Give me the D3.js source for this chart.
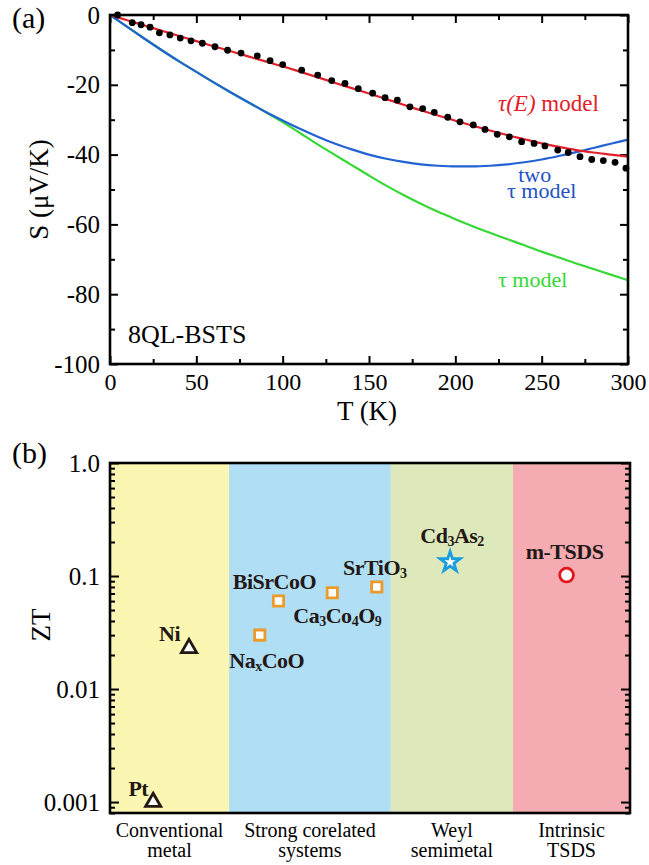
<!DOCTYPE html>
<html>
<head>
<meta charset="utf-8">
<script src="https://cdn.jsdelivr.net/npm/d3@7"></script>
<style>
  html, body { margin: 0; padding: 0; background: #fff; }
  svg { display: block; font-family: "Liberation Serif", "Times New Roman", serif; }
</style>
</head>
<body>
<svg id="chart" width="649" height="865"></svg>
<script>
// ---------- Panel (a) data ----------
const dotT = [4.4, 12.9, 18.0, 23.2, 28.6, 34.7, 40.7, 46.9, 53.5, 60.8, 68.1, 75.9, 85.3, 92.7, 100, 111, 120.3, 128.4, 136.1, 143.8, 152.1, 159.3, 166.4, 173.7, 181.1, 187.8, 195.6, 202.7, 210.4, 217.2, 224.3, 231.3, 238.4, 245.6, 251.9, 259.3, 265.4, 272.2, 279, 285.7, 292.5, 298.8];
const dotS = [0, -2.2, -2.8, -3.5, -5.1, -5.7, -6.6, -7.4, -8.1, -9.1, -10.1, -10.9, -11.7, -13.1, -14.2, -15.8, -17.2, -18.8, -19.6, -21.1, -22.4, -23.7, -24.4, -26.3, -26.8, -27.9, -29.3, -30.6, -31.5, -32.8, -34.2, -34.9, -36.3, -36.8, -37.5, -38.7, -39.4, -40.6, -41.4, -41.7, -42.2, -43.9];

const modelT = [0, 10, 20, 30, 40, 50, 60, 70, 80, 90, 100, 110, 120, 130, 140, 150, 160, 170, 180, 190, 200, 210, 220, 230, 240, 250, 260, 270, 280, 290, 300];
const tauEModel = [0, -1.5, -3.0, -4.5, -6.0, -7.5, -8.95, -10.4, -11.85, -13.3, -14.7, -16.25, -17.8, -19.4, -20.95, -22.5, -24.1, -25.7, -27.3, -28.8, -30.3, -31.7, -33.1, -34.4, -35.6, -36.8, -37.8, -38.7, -39.4, -40.0, -40.6];
const twoTauModel = [0, -3.4, -6.8, -10.1, -13.3, -16.3, -19.3, -22.2, -25.0, -27.7, -30.2, -32.6, -34.8, -36.8, -38.5, -40.0, -41.2, -42.1, -42.8, -43.2, -43.4, -43.4, -43.2, -42.8, -42.2, -41.4, -40.4, -39.3, -38.1, -36.9, -35.7];
const tauModel = [0, -3.4, -6.8, -10.1, -13.3, -16.3, -19.3, -22.2, -25.0, -27.8, -30.7, -33.8, -37.0, -40.0, -43.0, -46.0, -48.9, -51.6, -54.1, -56.4, -58.5, -60.5, -62.4, -64.2, -66.0, -67.8, -69.5, -71.2, -72.8, -74.4, -76.0];

const xTicksA = [0, 50, 100, 150, 200, 250, 300];
const xMinorA = [25, 75, 125, 175, 225, 275];
const yTicksA = [0, -20, -40, -60, -80, -100];
const yMinorA = [-10, -30, -50, -70, -90];

// ---------- Panel (b) data ----------
const categories = [["Conventional", "metal"], ["Strong corelated", "systems"], ["Weyl", "semimetal"], ["Intrinsic", "TSDS"]];
const categoryBounds = [0, 22.9, 54.0, 77.5, 100];
const categoryColors = ["#fbf6b1", "#b0dff5", "#dde9bb", "#f4abb1"];

const materials = [
  [["Pt", ""]],
  [["Ni", ""]],
  [["Na", ""], ["x", "sub"], ["CoO", ""]],
  [["BiSrCoO", ""]],
  [["Ca", ""], ["3", "sub"], ["Co", ""], ["4", "sub"], ["O", ""], ["9", "sub"]],
  [["SrTiO", ""], ["3", "sub"]],
  [["Cd", ""], ["3", "sub"], ["As", ""], ["2", "sub"]],
  [["m-TSDS", ""]]
];
const materialPos = [8.3, 15.2, 28.8, 32.4, 42.75, 51.3, 65.4, 87.8];
const materialZT = [0.001, 0.023, 0.030, 0.060, 0.071, 0.080, 0.133, 0.102];
const materialShape = ["triangle", "triangle", "square", "square", "square", "square", "star", "circle"];

const yTicksB = [1, 0.1, 0.01, 0.001];
const yTickLabelsB = ["1.0", "0.1", "0.01", "0.001"];

// ---------- Drawing ----------
const svg = d3.select("#chart");
const FONT = '"Liberation Serif", "Times New Roman", serif';

function styleAxis(g, fontSize) {
  g.select(".domain").remove();
  g.selectAll(".tick line").attr("stroke", "#000").attr("stroke-width", 2);
  g.selectAll(".tick text").attr("font-family", FONT).attr("font-size", fontSize).attr("fill", "#000");
}

// ===== Panel (a) =====
const xA = d3.scaleLinear().domain([0, 300]).range([110, 628]);
const yA = d3.scaleLinear().domain([-100, 0]).range([364, 15]);

const gA = svg.append("g");

gA.append("g").attr("transform", `translate(0,${yA(-100)})`)
  .call(d3.axisBottom(xA).tickValues(xTicksA).tickSize(-8).tickPadding(9).tickFormat(d => String(d)))
  .call(g => styleAxis(g, 24));
gA.append("g").attr("transform", `translate(0,${yA(-100)})`)
  .call(d3.axisBottom(xA).tickValues(xMinorA).tickSize(-5).tickFormat(""))
  .call(g => styleAxis(g, 24));
gA.append("g").attr("transform", `translate(0,${yA(0)})`)
  .call(d3.axisTop(xA).tickValues(xTicksA).tickSize(-8).tickFormat(""))
  .call(g => styleAxis(g, 24));
gA.append("g").attr("transform", `translate(0,${yA(0)})`)
  .call(d3.axisTop(xA).tickValues(xMinorA).tickSize(-5).tickFormat(""))
  .call(g => styleAxis(g, 24));
gA.append("g").attr("transform", `translate(${xA(0)},0)`)
  .call(d3.axisLeft(yA).tickValues(yTicksA).tickSize(-8).tickPadding(10).tickFormat(d => String(d)))
  .call(g => styleAxis(g, 25));
gA.append("g").attr("transform", `translate(${xA(0)},0)`)
  .call(d3.axisLeft(yA).tickValues(yMinorA).tickSize(-5).tickFormat(""))
  .call(g => styleAxis(g, 24));
gA.append("g").attr("transform", `translate(${xA(300)},0)`)
  .call(d3.axisRight(yA).tickValues(yTicksA).tickSize(-8).tickFormat(""))
  .call(g => styleAxis(g, 24));
gA.append("g").attr("transform", `translate(${xA(300)},0)`)
  .call(d3.axisRight(yA).tickValues(yMinorA).tickSize(-5).tickFormat(""))
  .call(g => styleAxis(g, 24));

// model curves
const lineA = d3.line().x(d => xA(d[0])).y(d => yA(d[1])).curve(d3.curveMonotoneX);
const curves = [
  { vals: tauModel, color: "#35d835" },
  { vals: twoTauModel, color: "#2262d2" },
  { vals: tauEModel, color: "#e3202a" }
];
curves.forEach(c => {
  gA.append("path")
    .datum(modelT.map((t, i) => [t, c.vals[i]]))
    .attr("d", lineA)
    .attr("fill", "none")
    .attr("stroke", c.color)
    .attr("stroke-width", 2.2);
});

// data dots
gA.append("g").selectAll("circle")
  .data(dotT.map((t, i) => [t, dotS[i]]))
  .join("circle")
  .attr("cx", d => xA(d[0]))
  .attr("cy", d => yA(d[1]))
  .attr("r", 3.4)
  .attr("fill", "#000");

// frame
gA.append("rect")
  .attr("x", xA(0)).attr("y", yA(0))
  .attr("width", xA(300) - xA(0)).attr("height", yA(-100) - yA(0))
  .attr("fill", "none").attr("stroke", "#000").attr("stroke-width", 2.6);

// annotations
const tE = gA.append("text").attr("x", xA(224.7)).attr("y", yA(-27.5))
  .attr("font-size", 23).attr("fill", "#e3202a");
tE.append("tspan").attr("font-style", "italic").text("τ(E)");
tE.append("tspan").text(" model");

const tTwo = gA.append("text").attr("font-size", 22).attr("fill", "#2252c4");
tTwo.append("tspan").attr("x", xA(246)).attr("y", yA(-47.9)).attr("text-anchor", "middle").text("two");
tTwo.append("tspan").attr("x", xA(229.9)).attr("y", yA(-52.4)).text("τ model");

gA.append("text").attr("x", xA(224.7)).attr("y", yA(-77.9))
  .attr("font-size", 22).attr("fill", "#35d835").text("τ model");
gA.append("text").attr("x", xA(10.4)).attr("y", yA(-94))
  .attr("font-size", 26).attr("fill", "#000").text("8QL-BSTS");

// axis titles
gA.append("text").attr("x", 367).attr("y", 420).attr("text-anchor", "middle")
  .attr("font-size", 27).text("T (K)");
gA.append("text").attr("transform", `translate(48,${(yA(0) + yA(-100)) / 2}) rotate(-90)`)
  .attr("text-anchor", "middle").attr("font-size", 27).text("S (μV/K)");
gA.append("text").attr("x", 12).attr("y", 28).attr("font-size", 30).text("(a)");

// ===== Panel (b) =====
const xB = d3.scaleLinear().domain([0, 100]).range([110, 630]);
const yB = d3.scaleLog().domain([0.0008, 1]).range([813, 463]);
const gB = svg.append("g");

gB.append("g").selectAll("rect")
  .data(categories.map((c, i) => i))
  .join("rect")
  .attr("x", i => xB(categoryBounds[i]))
  .attr("y", yB(1))
  .attr("width", i => xB(categoryBounds[i + 1]) - xB(categoryBounds[i]))
  .attr("height", yB(0.0008) - yB(1))
  .attr("fill", i => categoryColors[i]);

const minorB = [];
[-4, -3, -2, -1].forEach(e => {
  for (let m = 2; m <= 9; m++) {
    const v = m * Math.pow(10, e);
    if (v >= 0.0008 && v < 1) minorB.push(v);
  }
});
gB.append("g").attr("transform", `translate(${xB(0)},0)`)
  .call(d3.axisLeft(yB).tickValues(yTicksB).tickSize(-9).tickPadding(10)
    .tickFormat((d, i) => yTickLabelsB[i]))
  .call(g => styleAxis(g, 25));
gB.append("g").attr("transform", `translate(${xB(0)},0)`)
  .call(d3.axisLeft(yB).tickValues(minorB).tickSize(-5).tickFormat(""))
  .call(g => styleAxis(g, 24));
gB.append("g").attr("transform", `translate(${xB(100)},0)`)
  .call(d3.axisRight(yB).tickValues(yTicksB).tickSize(-9).tickFormat(""))
  .call(g => styleAxis(g, 24));
gB.append("g").attr("transform", `translate(${xB(100)},0)`)
  .call(d3.axisRight(yB).tickValues(minorB).tickSize(-5).tickFormat(""))
  .call(g => styleAxis(g, 24));

gB.append("rect")
  .attr("x", xB(0)).attr("y", yB(1))
  .attr("width", xB(100) - xB(0)).attr("height", yB(0.0008) - yB(1))
  .attr("fill", "none").attr("stroke", "#000").attr("stroke-width", 2.6);

const shapeStyle = {
  triangle: { sym: d3.symbolTriangle, size: 100, color: "#231815" },
  square: { sym: d3.symbolSquare, size: 105, color: "#ec9a2a" },
  star: { sym: d3.symbolStar, size: 125, color: "#1a9de0" },
  circle: { sym: d3.symbolCircle, size: 150, color: "#e3161e" }
};
gB.append("g").selectAll("path")
  .data(materialZT.map((v, i) => i))
  .join("path")
  .attr("transform", i => `translate(${xB(materialPos[i])},${yB(materialZT[i])})`)
  .attr("d", i => d3.symbol(shapeStyle[materialShape[i]].sym, shapeStyle[materialShape[i]].size)())
  .attr("fill", "#fff")
  .attr("stroke", i => shapeStyle[materialShape[i]].color)
  .attr("stroke-width", 2.8)
  .attr("stroke-linejoin", "miter");

const labelOffset = [
  { dx: -5, dy: -6, anchor: "end" },
  { dx: -9, dy: -7, anchor: "end" },
  { dx: 7, dy: 33, anchor: "middle" },
  { dx: -4, dy: -12, anchor: "middle" },
  { dx: 5, dy: 30, anchor: "middle" },
  { dx: -2, dy: -12, anchor: "middle" },
  { dx: 2, dy: -19, anchor: "middle" },
  { dx: -2, dy: -16, anchor: "middle" }
];
materials.forEach((parts, i) => {
  const o = labelOffset[i];
  const t = gB.append("text")
    .attr("x", xB(materialPos[i]) + o.dx)
    .attr("y", yB(materialZT[i]) + o.dy)
    .attr("text-anchor", o.anchor)
    .attr("font-size", 22)
    .attr("font-weight", "bold")
    .attr("fill", "#231815")
    .attr("letter-spacing", -0.5);
  let prevSub = false;
  parts.forEach(p => {
    const sp = t.append("tspan").text(p[0]);
    if (p[1] === "sub") {
      sp.attr("font-size", 14).attr("dy", prevSub ? 0 : 3);
      prevSub = true;
    } else {
      if (prevSub) sp.attr("dy", -3);
      prevSub = false;
    }
  });
});

categories.forEach((lines, i) => {
  const cx = (xB(categoryBounds[i]) + xB(categoryBounds[i + 1])) / 2;
  const t = gB.append("text").attr("text-anchor", "middle").attr("font-size", 20).attr("fill", "#000");
  lines.forEach((ln, j) => {
    t.append("tspan").attr("x", cx).attr("y", 837 + j * 20).text(ln);
  });
});

gB.append("text").attr("transform", `translate(50,625) rotate(-90)`)
  .attr("text-anchor", "middle").attr("font-size", 27).text("ZT");
gB.append("text").attr("x", 12).attr("y", 463).attr("font-size", 30).text("(b)");
</script>
</body>
</html>
